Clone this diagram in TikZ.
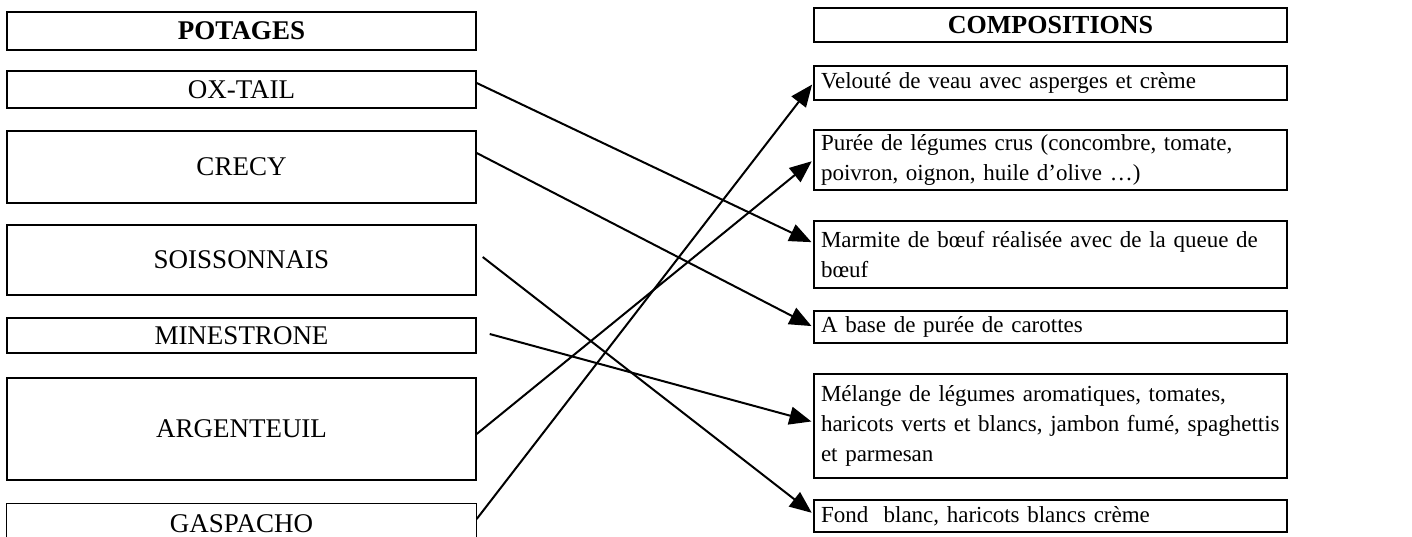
\documentclass[tikz,border=0pt]{standalone}
\usepackage{fontspec}
\setmainfont{Liberation Serif}
\usetikzlibrary{arrows.meta}
\begin{document}
\begin{tikzpicture}[x=1pt,y=-1pt,
  lbox/.style={draw, line width=1.4pt, minimum width=469pt, inner sep=0pt,
    font=\fontsize{27}{32}\selectfont},
  rbox/.style={draw, line width=1.4pt, inner xsep=7pt, inner ysep=0pt,
    text width=459pt, align=left, font=\fontsize{23}{30}\selectfont},
  hbox/.style={draw, line width=1.4pt, minimum width=473pt, inner sep=0pt,
    font=\fontsize{26}{32}\selectfont},
  link/.style={line width=2pt, -{Triangle[length=22pt,width=18pt]}, shorten >=2pt}]
\useasboundingbox (0,0) rectangle (1412,537);
\clip (0,0) rectangle (1412,537);
\fill[white] (0,0) rectangle (1412,537);
% left column
\node[lbox, minimum height=38pt] (potages) at (241.5,31) {\textbf{POTAGES}};
\node[lbox, minimum height=37pt] (oxtail) at (241.5,89.5) {OX-TAIL};
\node[lbox, minimum height=72pt] (crecy) at (241.5,167) {CRECY};
\node[lbox, minimum height=70pt] (soiss) at (241.5,260) {SOISSONNAIS};
\node[lbox, minimum height=35pt] (mine) at (241.5,335.5) {MINESTRONE};
\node[lbox, minimum height=102pt] (argent) at (241.5,429) {ARGENTEUIL};
\node[lbox, draw=none, minimum height=40pt] (gasp) at (241.5,524) {GASPACHO};
\draw[line width=1.4pt] (gasp.south west) -- (gasp.north west) -- (gasp.north east) -- (gasp.south east);
% right column
\node[hbox, minimum height=34pt] (comp) at (1050.5,25) {\textbf{COMPOSITIONS}};
\node[rbox, minimum height=34pt] (velo) at (1050.5,83) {Velouté de veau avec asperges et crème};
\node[rbox, minimum height=60pt] (puree) at (1050.5,160) {Purée de légumes crus (concombre, tomate,\\poivron, oignon, huile d’olive …)};
\node[rbox, minimum height=67pt] (marm) at (1050.5,254.5) {Marmite de bœuf réalisée avec de la queue de\\bœuf};
\node[rbox, minimum height=32pt] (abase) at (1050.5,327) {A base de purée de carottes};
\node[rbox, minimum height=104pt] (mela) at (1050.5,426) {Mélange de légumes aromatiques, tomates,\\\mbox{haricots verts et blancs, jambon fumé, spaghettis}\\et parmesan};
\node[rbox, minimum height=32pt] (fond) at (1050.5,516) {Fond~ blanc, haricots blancs crème};
% connectors
\draw[link] ([yshift=6.5pt]oxtail.east) -- ([yshift=11.5pt]marm.west);
\draw[link] ([yshift=14pt]crecy.east) -- (abase.west);
\draw[link] ([xshift=6pt,yshift=3pt]soiss.east) -- ([yshift=2pt]fond.west);
\draw[link] ([xshift=13pt,yshift=1.5pt]mine.east) -- ([yshift=4pt]mela.west);
\draw[link] ([yshift=-5pt]argent.east) -- (puree.west);
\draw[link] ([yshift=5pt]gasp.east) -- (velo.west);
\end{tikzpicture}
\end{document}
